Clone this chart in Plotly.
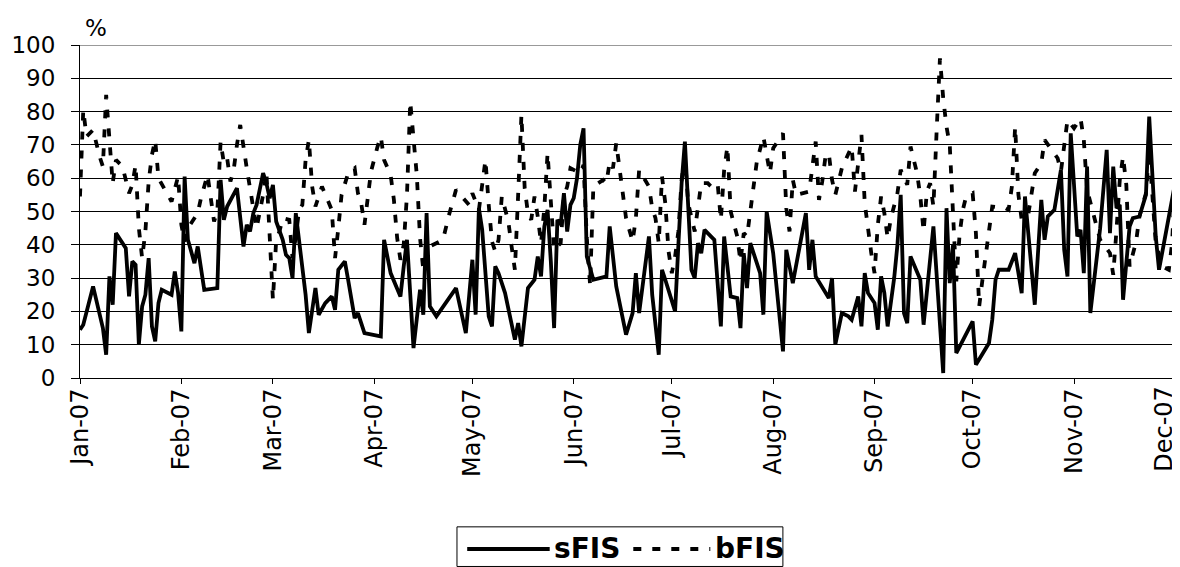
import plotly.graph_objects as go

# ---- data ----
s_dates = ["2007-01-01","2007-01-02","2007-01-05","2007-01-08","2007-01-09","2007-01-10","2007-01-11","2007-01-12",
"2007-01-15","2007-01-16","2007-01-17","2007-01-18","2007-01-19","2007-01-20","2007-01-21","2007-01-22","2007-01-23",
"2007-01-24","2007-01-25","2007-01-26","2007-01-29","2007-01-30","2007-01-31","2007-02-01","2007-02-02","2007-02-03",
"2007-02-05","2007-02-06","2007-02-08","2007-02-12","2007-02-13","2007-02-14","2007-02-15","2007-02-17","2007-02-18",
"2007-02-20","2007-02-21","2007-02-22","2007-02-23","2007-02-24","2007-02-26","2007-02-27","2007-02-28","2007-03-01",
"2007-03-02","2007-03-04","2007-03-05","2007-03-06","2007-03-07","2007-03-08","2007-03-09","2007-03-10","2007-03-11",
"2007-03-12","2007-03-14","2007-03-15","2007-03-17","2007-03-19","2007-03-20","2007-03-21","2007-03-23","2007-03-24",
"2007-03-26","2007-03-27","2007-03-29","2007-04-03","2007-04-04","2007-04-06","2007-04-09","2007-04-10","2007-04-11",
"2007-04-13","2007-04-15","2007-04-16","2007-04-17","2007-04-18","2007-04-20","2007-04-26","2007-04-29","2007-05-01",
"2007-05-02","2007-05-03","2007-05-04","2007-05-06","2007-05-07","2007-05-08","2007-05-09","2007-05-11","2007-05-14",
"2007-05-15","2007-05-16","2007-05-18","2007-05-20","2007-05-21","2007-05-22","2007-05-23","2007-05-24","2007-05-25",
"2007-05-26","2007-05-27","2007-05-28","2007-05-29","2007-05-30","2007-05-31","2007-06-01","2007-06-02","2007-06-03",
"2007-06-04","2007-06-05","2007-06-07","2007-06-11","2007-06-12","2007-06-14","2007-06-17","2007-06-19","2007-06-20",
"2007-06-21","2007-06-24","2007-06-25","2007-06-27","2007-06-28","2007-06-29","2007-07-02","2007-07-03","2007-07-04",
"2007-07-05","2007-07-06","2007-07-07","2007-07-08","2007-07-09","2007-07-10","2007-07-11","2007-07-14","2007-07-16",
"2007-07-17","2007-07-19","2007-07-21","2007-07-22","2007-07-23","2007-07-24","2007-07-25","2007-07-28","2007-07-29",
"2007-07-30","2007-08-01","2007-08-04","2007-08-05","2007-08-07","2007-08-11","2007-08-12","2007-08-13","2007-08-14",
"2007-08-18","2007-08-19","2007-08-20","2007-08-22","2007-08-24","2007-08-25","2007-08-27","2007-08-28","2007-08-29",
"2007-08-30","2007-09-01","2007-09-02","2007-09-03","2007-09-04","2007-09-05","2007-09-07","2007-09-08","2007-09-09",
"2007-09-10","2007-09-11","2007-09-12","2007-09-15","2007-09-16","2007-09-19","2007-09-22","2007-09-23","2007-09-24",
"2007-09-25","2007-09-26","2007-10-01","2007-10-02","2007-10-06","2007-10-07","2007-10-08","2007-10-09","2007-10-12",
"2007-10-14","2007-10-16","2007-10-17","2007-10-18","2007-10-20","2007-10-22","2007-10-23","2007-10-24","2007-10-26",
"2007-10-28","2007-10-29","2007-10-30","2007-10-31","2007-11-02","2007-11-03","2007-11-04","2007-11-05","2007-11-06",
"2007-11-09","2007-11-11","2007-11-12","2007-11-13","2007-11-14","2007-11-15","2007-11-16","2007-11-18","2007-11-19",
"2007-11-21","2007-11-23","2007-11-24","2007-11-26","2007-11-27","2007-11-30","2007-12-02","2007-12-03"]
s_values = [14.5,16,27.5,15,7,30.5,22,43.5,
39,24.5,35,34,10,21.5,25,36,15.5,
11,22.5,26.5,25,32,25.5,14,60.5,41.5,
34.5,39.5,26.5,27,59.5,47.5,51.5,55,57,
39.5,46,44,49.5,52,61.5,58.5,54,58,
47,41.5,37,36,30,49.5,41,33,25,
13.5,27,19,22.5,24.5,20.5,32.5,35,29.5,
18,19.5,13.5,12.5,41.5,31.5,24.5,33.5,41.5,
9,26.5,19,49.5,21.5,18.5,27,13.5,35.5,
19,51,44.5,18.5,15.5,33.5,31.5,25.5,11.5,
16.5,9.5,27,29.5,36.5,30.5,45.5,50.5,35,
15,47.5,46,55.5,44,52,54,60,70,
75,36.5,29.5,30.5,45.5,27.5,13,19.5,31.5,
19.5,42.5,25,7,32.5,29.5,20,40,58.5,
71,50,32.5,30,40.5,37.5,44.5,41.5,15.5,
42.5,24.5,24,15,37.5,27,40.5,31.5,19,
50,37.5,8,38.5,28.5,49.5,32.5,41.5,30.5,
24,30,10,19.5,18.5,17.5,24.5,15.5,31.5,
25.5,22.5,14.5,30.5,25.5,15.5,30,40,55,
19.5,16.5,36.5,29.5,16,45.5,1.5,51,28.5,
40,7.5,17,4,10.5,17.5,29.5,32.5,32.5,
37.5,25.5,54.5,43.5,22,53.5,41.5,48.5,50.5,
62.5,38.5,30.5,73.5,42.5,44.5,31.5,63.5,19.5,
45,68.5,43.5,63.5,51,52,23.5,45.5,48,
48.5,55,78.5,42.5,32.5,48.5,59,19.5]

b_dates = ["2007-01-01","2007-01-02","2007-01-03","2007-01-05","2007-01-07","2007-01-08","2007-01-09","2007-01-10",
"2007-01-11","2007-01-12","2007-01-14","2007-01-16","2007-01-17","2007-01-18","2007-01-19","2007-01-20","2007-01-21",
"2007-01-22","2007-01-23","2007-01-24","2007-01-25","2007-01-29","2007-01-30","2007-01-31","2007-02-01","2007-02-02",
"2007-02-03","2007-02-06","2007-02-07","2007-02-09","2007-02-10","2007-02-11","2007-02-12","2007-02-13","2007-02-14",
"2007-02-15","2007-02-16","2007-02-17","2007-02-18","2007-02-19","2007-02-21","2007-02-22","2007-02-23","2007-02-24",
"2007-02-26","2007-02-27","2007-03-01","2007-03-02","2007-03-03","2007-03-04","2007-03-06","2007-03-07","2007-03-08",
"2007-03-09","2007-03-10","2007-03-11","2007-03-12","2007-03-13","2007-03-14","2007-03-15","2007-03-16","2007-03-19",
"2007-03-20","2007-03-21","2007-03-22","2007-03-24","2007-03-26","2007-03-27","2007-03-28","2007-03-29","2007-03-30",
"2007-03-31","2007-04-02","2007-04-03","2007-04-04","2007-04-06","2007-04-07","2007-04-08","2007-04-09","2007-04-10",
"2007-04-11","2007-04-12","2007-04-13","2007-04-14","2007-04-15","2007-04-16","2007-04-18","2007-04-22","2007-04-24",
"2007-04-26","2007-04-30","2007-05-01","2007-05-03","2007-05-04","2007-05-05","2007-05-06","2007-05-07","2007-05-08",
"2007-05-09","2007-05-10","2007-05-12","2007-05-13","2007-05-14","2007-05-15","2007-05-16","2007-05-17","2007-05-18",
"2007-05-19","2007-05-20","2007-05-21","2007-05-22","2007-05-23","2007-05-24","2007-05-25","2007-05-26","2007-05-28",
"2007-05-29","2007-05-30","2007-05-31","2007-06-03","2007-06-04","2007-06-05","2007-06-06","2007-06-07","2007-06-10",
"2007-06-11","2007-06-12","2007-06-13","2007-06-14","2007-06-15","2007-06-16","2007-06-17","2007-06-19","2007-06-20",
"2007-06-21","2007-06-24","2007-06-25","2007-06-26","2007-06-27","2007-06-28","2007-06-29","2007-06-30","2007-07-01",
"2007-07-02","2007-07-03","2007-07-04","2007-07-05","2007-07-06","2007-07-08","2007-07-10","2007-07-12","2007-07-13",
"2007-07-15","2007-07-16","2007-07-17","2007-07-18","2007-07-19","2007-07-21","2007-07-22","2007-07-23","2007-07-24",
"2007-07-25","2007-07-26","2007-07-27","2007-07-29","2007-07-30","2007-07-31","2007-08-01","2007-08-04","2007-08-05",
"2007-08-06","2007-08-07","2007-08-08","2007-08-12","2007-08-14","2007-08-15","2007-08-16","2007-08-17","2007-08-18",
"2007-08-19","2007-08-20","2007-08-22","2007-08-25","2007-08-26","2007-08-28","2007-08-29","2007-08-30","2007-08-31",
"2007-09-01","2007-09-02","2007-09-03","2007-09-04","2007-09-05","2007-09-06","2007-09-08","2007-09-09","2007-09-11",
"2007-09-12","2007-09-14","2007-09-15","2007-09-16","2007-09-17","2007-09-18","2007-09-19","2007-09-20","2007-09-21",
"2007-09-22","2007-09-23","2007-09-24","2007-09-25","2007-09-26","2007-09-27","2007-09-28","2007-09-29","2007-10-01",
"2007-10-02","2007-10-03","2007-10-04","2007-10-05","2007-10-06","2007-10-07","2007-10-11","2007-10-12","2007-10-13",
"2007-10-14","2007-10-15","2007-10-16","2007-10-18","2007-10-19","2007-10-20","2007-10-22","2007-10-23","2007-10-27",
"2007-10-28","2007-10-30","2007-11-01","2007-11-03","2007-11-04","2007-11-05","2007-11-07","2007-11-09","2007-11-12",
"2007-11-13","2007-11-14","2007-11-15","2007-11-16","2007-11-17","2007-11-18","2007-11-20","2007-11-21","2007-11-23",
"2007-11-24","2007-11-25","2007-11-26","2007-11-28","2007-11-30","2007-12-01","2007-12-02","2007-12-03"]
b_values = [54.5,80.5,72.5,74.5,66.5,63.5,85,71.5,
58.5,65.5,63.5,55.5,58,64,45,36,44,
59,67,71.5,60,53,57,60.5,46,41,
45,49.5,54,61,54,47,50,71,64.5,
66,59,62.5,70,76,63,56.5,51.5,45,
55,62,23.5,41.5,44,48,47.5,36,42.5,
50.5,52,65.5,71.5,57.5,51.5,55,57.5,50.5,
36,45,55,61.5,63,55.5,52.5,46,55,
62,69.5,72.5,65.5,61,53.5,42,35.5,40,
55,83,72,61,42,32.5,39.5,41.5,49.5,
56.5,52,55.5,50.5,58,65.5,52,41,38,
41.5,54.5,47,39.5,32.5,55,79,57,49.5,
47.5,54.5,48.5,40.5,51,67.5,53,38.5,40.5,
54.5,57.5,63,61.5,64,42,28,57.5,59.5,
58.5,65,63,70.5,63,55.5,48,41,48,
62.5,57.5,51,48,40.5,60.5,52.5,38,31.5,
36.5,44,59.5,66.5,52.5,44,58.5,58.5,57.5,
58.5,47.5,62.5,69.5,50,42.5,35,43.5,42.5,
50,57.5,65,72.5,67,61.5,69,73.5,51,
44,59.5,55,56,71,53.5,59,66.5,67.5,
59.5,55,63,69.5,56,73,52.5,44.5,37.5,
31.5,46,54.5,49.5,42,48,55.5,62.5,58,
69.5,61.5,54.5,44,56,58.5,51.5,74.5,96,
84,75.5,70,52,29,43,50.5,54.5,55.5,
43.5,21.5,29.5,37.5,44,51.5,51,50.5,57.5,
75.5,55,47.5,49,55.5,61.5,64.5,71.5,66,
62,77.5,75,78,71.5,56.5,49,41.5,37.5,
31,44.5,59.5,66.5,58,33.5,41,48.5,55.5,
68.5,55.5,40.5,33.5,32.5,40.5,61.5,47.5]

series_names = ["sFIS", "bFIS"]
y_ticks = list(range(0, 101, 10))
month_ticks = ["2007-%02d-01" % m for m in range(1, 13)]
month_labels = ["Jan-07", "Feb-07", "Mar-07", "Apr-07", "May-07", "Jun-07",
                "Jul-07", "Aug-07", "Sep-07", "Oct-07", "Nov-07", "Dec-07"]

FONT = "DejaVu Sans, Verdana, sans-serif"
DASH = "8px,11px"

fig = go.Figure()
fig.add_trace(go.Scatter(x=s_dates, y=s_values, mode="lines", name=series_names[0],
                         line=dict(color="black", width=3.8), showlegend=False))
fig.add_trace(go.Scatter(x=b_dates, y=b_values, mode="lines", name=series_names[1],
                         line=dict(color="black", width=3.8, dash=DASH), showlegend=False))

# last month label sits at the right edge: draw it as an annotation nudged inside the page
tick_text = month_labels[:-1] + [""]

# the page body adds an 8px offset; the figure is sized so the plot area lands at x 80-1180, y 45-378
fig.update_layout(
    width=1172, height=559,
    margin=dict(l=72, r=0, t=37, b=189, autoexpand=False),
    paper_bgcolor="white", plot_bgcolor="white",
    font=dict(family=FONT, size=23, color="black"),
    xaxis=dict(type="date", range=["2007-01-01", "2007-12-03 10:00"],
               tickvals=month_ticks, ticktext=tick_text, tickangle=-90,
               showgrid=False, showline=True, linecolor="black", linewidth=1,
               ticks="outside", ticklen=5, tickcolor="black", automargin=False,
               ticklabelstandoff=-5, ticklabeloverflow="allow",
               tickfont=dict(family=FONT, size=24, color="black"), zeroline=False),
    yaxis=dict(range=[0, 100], tickvals=y_ticks, showgrid=True, gridcolor="black", gridwidth=1,
               showline=True, linecolor="black", linewidth=1, ticks="outside", ticklen=8,
               tickcolor="black", ticklabelstandoff=11, zeroline=False, automargin=False,
               tickfont=dict(family=FONT, size=23, color="black")),
)

fig.add_annotation(text=month_labels[-1], x=month_ticks[-1], xref="x", y=-0.02, yref="paper",
                   textangle=-90, showarrow=False, xanchor="center", yanchor="top", xshift=-8,
                   borderpad=0, font=dict(family=FONT, size=24, color="black"))

# grey plot-area border at the top
fig.add_shape(type="line", xref="paper", yref="y", x0=0, x1=1, y0=100, y1=100,
              line=dict(color="#999999", width=2))

# "%" unit label
fig.add_annotation(text="%", xref="paper", yref="paper", x=0.0145, y=1.052,
                   showarrow=False, xanchor="center", yanchor="middle",
                   font=dict(family=FONT, size=23, color="black"))

# legend box drawn as in the reference (long line samples)
ly = -0.5135
fig.add_shape(type="rect", xref="paper", yref="paper", x0=0.3427, x1=0.639, y0=-0.566, y1=-0.447,
              line=dict(color="black", width=1), fillcolor="white")
fig.add_shape(type="line", xref="paper", yref="paper", x0=0.352, x1=0.427, y0=ly, y1=ly,
              line=dict(color="black", width=3.8))
fig.add_shape(type="line", xref="paper", yref="paper", x0=0.503, x1=0.573, y0=ly, y1=ly,
              line=dict(color="black", width=3.8, dash=DASH))
fig.add_annotation(text="<b>" + series_names[0] + "</b>", xref="paper", yref="paper", x=0.429, y=ly,
                   showarrow=False, xanchor="left", yanchor="middle",
                   font=dict(family=FONT, size=28, color="black"))
fig.add_annotation(text="<b>" + series_names[1] + "</b>", xref="paper", yref="paper", x=0.5755, y=ly,
                   showarrow=False, xanchor="left", yanchor="middle",
                   font=dict(family=FONT, size=28, color="black"))

fig.write_html("out.html")
